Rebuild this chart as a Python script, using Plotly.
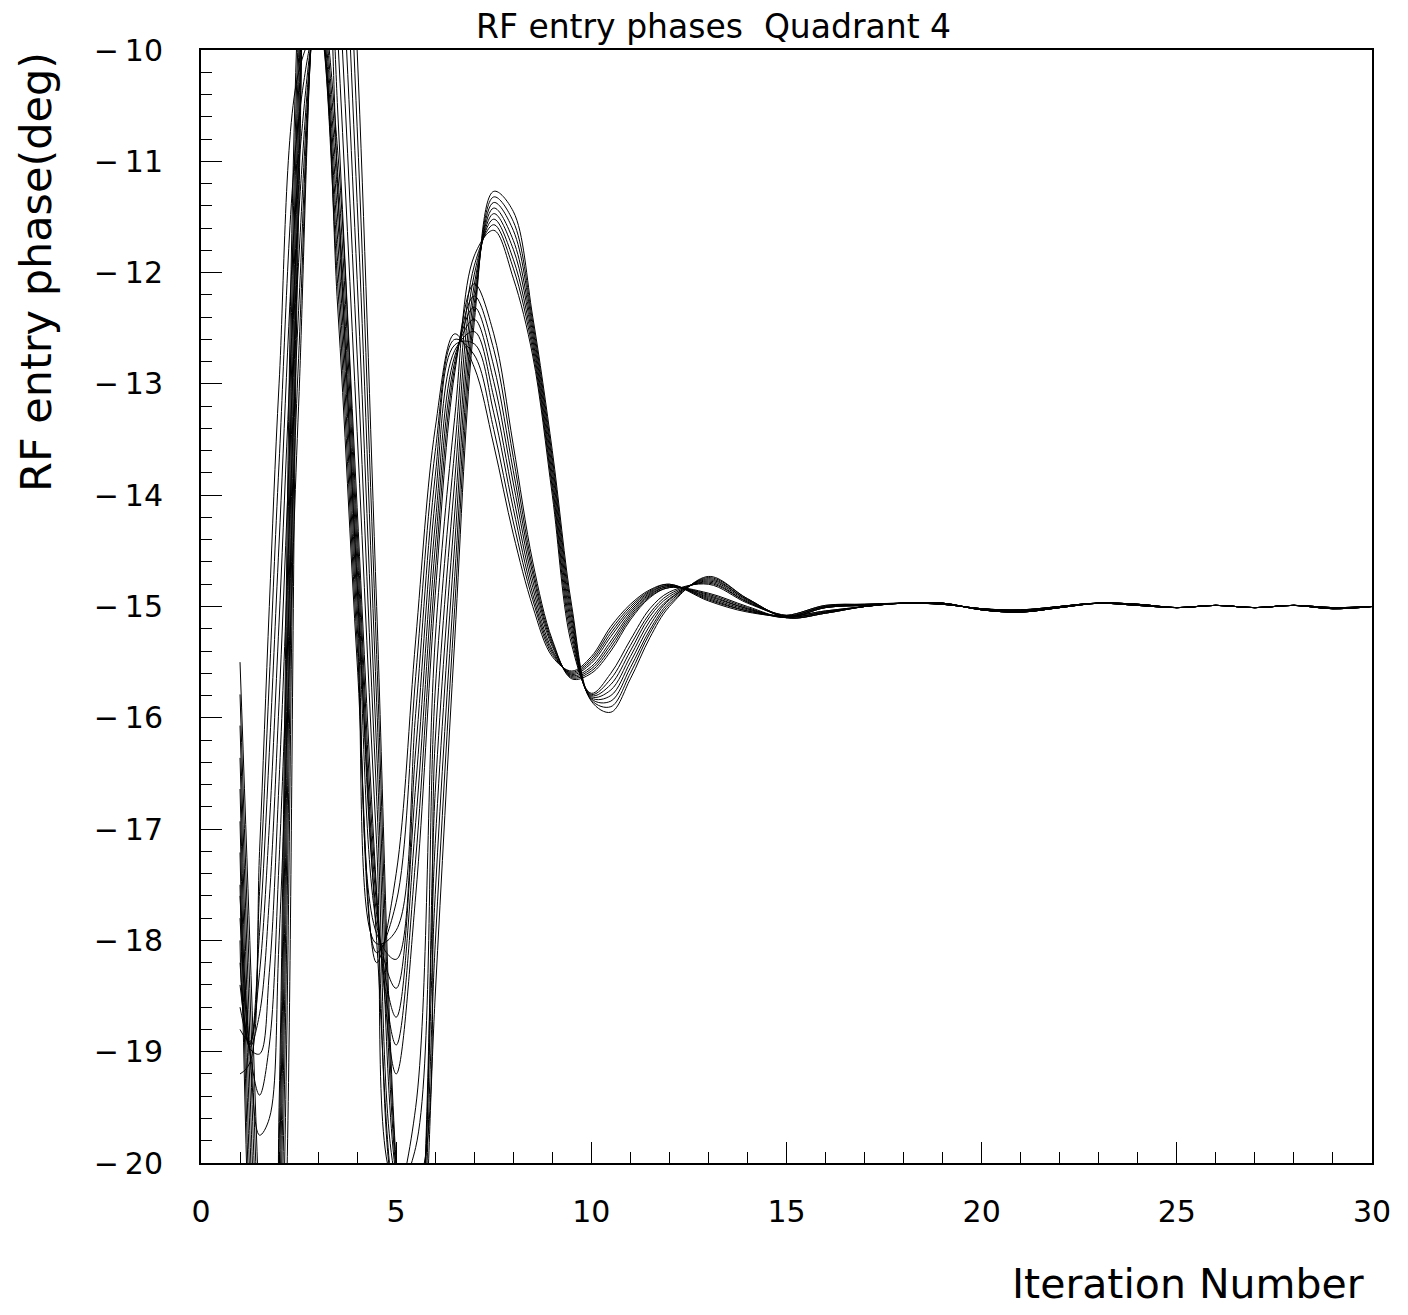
import plotly.graph_objects as go

iteration = [1.0, 1.25, 1.5, 1.75, 2.0, 2.5, 3.0, 3.5, 4.0, 4.5, 5.0, 5.5, 6.0, 6.5, 7.0, 7.5, 8.0, 8.5,
             9.0, 9.5, 10.0, 10.5, 11.0, 11.5, 12, 13, 14, 15, 16, 17, 18, 19, 20, 21, 22,
             23, 24, 25, 26, 27, 28, 29, 30]

# Group A: later, higher second peak (about -11.2 .. -11.6 near iteration 7.5)
a1 = [-17.5, -21.0, -23.0, -23.0, -19.5, -9.5, -7.0, -11.2, -14.8, -18.0, -20.3, -19.5, -15.3, -13.3, -11.85, -11.62, -12.05, -12.75,
      -14.0, -15.35, -15.78, -15.6, -15.3, -15.02, -14.87, -14.80, -14.97, -15.08, -15.04, -15.00, -14.97, -14.97, -15.03, -15.05, -15.01,
      -14.97, -14.98, -15.01, -14.99, -15.01, -14.99, -15.02, -15.00]
a2 = [-17.21, -20.57, -22.64, -22.93, -19.86, -9.79, -6.79, -10.53, -14.11, -17.57, -20.26, -19.86, -15.76, -13.59, -11.94, -11.57, -11.96, -12.7,
      -13.94, -15.3, -15.79, -15.65, -15.35, -15.06, -14.89, -14.79, -14.96, -15.08, -15.04, -15.00, -14.97, -14.97, -15.03, -15.05, -15.01,
      -14.97, -14.98, -15.01, -14.99, -15.01, -14.99, -15.02, -15.00]
a3 = [-16.93, -20.14, -22.29, -22.86, -20.21, -10.07, -6.57, -9.86, -13.43, -17.14, -20.21, -20.21, -16.21, -13.87, -12.02, -11.52, -11.88, -12.65,
      -13.89, -15.25, -15.80, -15.7, -15.4, -15.09, -14.91, -14.78, -14.96, -15.09, -15.05, -15.00, -14.97, -14.97, -15.03, -15.05, -15.01,
      -14.97, -14.98, -15.01, -14.99, -15.01, -14.99, -15.02, -15.00]
a4 = [-16.64, -19.71, -21.93, -22.79, -20.57, -10.36, -6.36, -9.19, -12.74, -16.71, -20.17, -20.57, -16.67, -14.16, -12.11, -11.47, -11.79, -12.6,
      -13.83, -15.2, -15.81, -15.75, -15.45, -15.13, -14.93, -14.77, -14.95, -15.09, -15.05, -15.00, -14.97, -14.97, -15.03, -15.05, -15.01,
      -14.97, -14.98, -15.01, -14.99, -15.01, -14.99, -15.02, -15.00]
a5 = [-16.36, -19.29, -21.57, -22.71, -20.93, -10.64, -6.14, -8.51, -12.06, -16.29, -20.13, -20.93, -17.13, -14.44, -12.19, -11.42, -11.71, -12.55,
      -13.77, -15.15, -15.82, -15.8, -15.5, -15.17, -14.94, -14.76, -14.94, -15.09, -15.05, -15.00, -14.97, -14.97, -15.03, -15.05, -15.01,
      -14.97, -14.98, -15.01, -14.99, -15.01, -14.99, -15.02, -15.00]
a6 = [-16.07, -18.86, -21.21, -22.64, -21.29, -10.93, -5.93, -7.84, -11.37, -15.86, -20.09, -21.29, -17.59, -14.73, -12.28, -11.37, -11.62, -12.5,
      -13.71, -15.1, -15.83, -15.85, -15.55, -15.21, -14.96, -14.75, -14.94, -15.10, -15.06, -15.00, -14.97, -14.97, -15.03, -15.05, -15.01,
      -14.97, -14.98, -15.01, -14.99, -15.01, -14.99, -15.02, -15.00]
a7 = [-15.79, -18.43, -20.86, -22.57, -21.64, -11.21, -5.71, -7.17, -10.69, -15.43, -20.04, -21.64, -18.04, -15.01, -12.36, -11.32, -11.54, -12.45,
      -13.66, -15.05, -15.84, -15.9, -15.6, -15.24, -14.98, -14.74, -14.93, -15.10, -15.06, -15.00, -14.97, -14.97, -15.03, -15.05, -15.01,
      -14.97, -14.98, -15.01, -14.99, -15.01, -14.99, -15.02, -15.00]
a8 = [-15.5, -18.0, -20.5, -22.5, -22.0, -11.5, -5.5, -6.5, -10.0, -15.0, -20.0, -22.0, -18.5, -15.3, -12.45, -11.27, -11.45, -12.4,
      -13.6, -15.0, -15.85, -15.95, -15.65, -15.28, -15.0, -14.73, -14.93, -15.10, -15.06, -15.00, -14.97, -14.97, -15.03, -15.05, -15.01,
      -14.97, -14.98, -15.01, -14.99, -15.01, -14.99, -15.02, -15.00]

# Group B: earlier, lower second peak (about -12.1 .. -12.5 near iteration 6.8)
b1 = [-19.2, -19.1, -17.2, -15.0, -13.0, -10.2, -9.8, -12.3, -15.5, -18.2, -17.4, -15.3, -13.4, -12.55, -12.85, -13.55, -14.35, -15.0,
      -15.45, -15.58, -15.45, -15.18, -14.98, -14.85, -14.80, -14.95, -15.05, -15.08, -14.99, -14.98, -14.97, -14.98, -15.02, -15.03, -15.00,
      -14.97, -14.99, -15.01, -14.99, -15.01, -14.99, -15.01, -15.00]
b2 = [-18.8, -18.91, -17.56, -15.66, -13.71, -10.63, -9.73, -12.1, -15.33, -18.11, -17.66, -15.63, -13.61, -12.6, -12.74, -13.41, -14.24, -14.94,
      -15.43, -15.59, -15.47, -15.21, -15.0, -14.86, -14.80, -14.94, -15.04, -15.08, -14.99, -14.98, -14.97, -14.98, -15.02, -15.03, -15.00,
      -14.97, -14.99, -15.01, -14.99, -15.01, -14.99, -15.01, -15.00]
b3 = [-18.6, -18.93, -17.93, -16.31, -14.43, -11.06, -9.66, -11.9, -15.16, -18.03, -17.91, -15.96, -13.83, -12.65, -12.64, -13.26, -14.12, -14.89,
      -15.41, -15.6, -15.49, -15.24, -15.02, -14.87, -14.81, -14.93, -15.04, -15.09, -15.00, -14.98, -14.97, -14.98, -15.02, -15.03, -15.00,
      -14.97, -14.99, -15.01, -14.99, -15.01, -14.99, -15.01, -15.00]
b4 = [-18.4, -18.94, -18.29, -16.97, -15.14, -11.49, -9.59, -11.7, -14.99, -17.94, -18.17, -16.29, -14.04, -12.7, -12.53, -13.12, -14.01, -14.83,
      -15.39, -15.61, -15.51, -15.27, -15.04, -14.88, -14.81, -14.92, -15.03, -15.09, -15.00, -14.99, -14.97, -14.98, -15.02, -15.03, -15.00,
      -14.97, -14.99, -15.01, -14.99, -15.01, -14.99, -15.01, -15.00]
b5 = [-18.2, -18.96, -18.66, -17.63, -15.86, -11.91, -9.51, -11.5, -14.81, -17.86, -18.43, -16.61, -14.26, -12.75, -12.42, -12.98, -13.89, -14.77,
      -15.36, -15.62, -15.54, -15.31, -15.06, -14.89, -14.82, -14.91, -15.02, -15.09, -15.00, -14.99, -14.97, -14.98, -15.02, -15.04, -15.00,
      -14.97, -14.99, -15.01, -14.99, -15.01, -14.99, -15.01, -15.00]
b6 = [-18.0, -18.97, -19.02, -18.29, -16.57, -12.34, -9.44, -11.3, -14.64, -17.77, -18.69, -16.94, -14.47, -12.8, -12.31, -12.84, -13.78, -14.71,
      -15.34, -15.63, -15.56, -15.34, -15.08, -14.9, -14.82, -14.90, -15.02, -15.10, -15.01, -14.99, -14.97, -14.98, -15.02, -15.04, -15.00,
      -14.97, -14.99, -15.01, -14.99, -15.01, -14.99, -15.01, -15.00]
b7 = [-17.8, -18.99, -19.39, -18.94, -17.29, -12.77, -9.37, -11.1, -14.47, -17.69, -18.94, -17.27, -14.69, -12.85, -12.21, -12.69, -13.66, -14.66,
      -15.32, -15.64, -15.58, -15.37, -15.1, -14.91, -14.83, -14.89, -15.01, -15.10, -15.01, -14.99, -14.97, -14.98, -15.02, -15.04, -15.00,
      -14.97, -14.99, -15.01, -14.99, -15.01, -14.99, -15.01, -15.00]
b8 = [-17.6, -19.0, -19.75, -19.6, -18.0, -13.2, -9.3, -10.9, -14.3, -17.6, -19.2, -17.6, -14.9, -12.9, -12.1, -12.55, -13.55, -14.6,
      -15.3, -15.65, -15.6, -15.4, -15.12, -14.92, -14.83, -14.88, -15.00, -15.10, -15.01, -14.99, -14.97, -14.98, -15.02, -15.04, -15.00,
      -14.97, -14.99, -15.01, -14.99, -15.01, -14.99, -15.01, -15.00]

x_tick_vals = [0, 5, 10, 15, 20, 25, 30]
x_tick_text = ["0", "5", "10", "15", "20", "25", "30"]
y_tick_vals = [-20, -19, -18, -17, -16, -15, -14, -13, -12, -11, -10]
y_tick_text = ["\u2212\u200920", "\u2212\u200919", "\u2212\u200918", "\u2212\u200917", "\u2212\u200916",
               "\u2212\u200915", "\u2212\u200914", "\u2212\u200913", "\u2212\u200912", "\u2212\u200911", "\u2212\u200910"]

title_text = "RF entry phases  Quadrant 4"
x_title = "Iteration Number"
y_title = "RF entry phase(deg)"

curves = [a1, a2, a3, a4, a5, a6, a7, a8, b1, b2, b3, b4, b5, b6, b7, b8]

FONT = "DejaVu Sans"
W, H = 1408, 1315
L, R, T, B = 201, 36, 50, 152
pw, ph = W - L - R, H - T - B

fig = go.Figure()
for c in curves:
    fig.add_trace(go.Scatter(
        x=iteration, y=c, mode="lines",
        line=dict(color="black", width=1, shape="spline", smoothing=1.0),
        showlegend=False, hoverinfo="skip",
    ))

axis_common = dict(
    showgrid=False, zeroline=False, showline=True, mirror=True,
    linecolor="black", linewidth=2, ticks="inside", tickcolor="black",
    tickwidth=1, tickfont=dict(family=FONT, size=30, color="black"),
)

fig.update_xaxes(
    range=[0, 30], tickvals=x_tick_vals, ticktext=x_tick_text, ticklen=21,
    ticklabelstandoff=21,
    minor=dict(dtick=1, ticklen=11, ticks="inside", tickcolor="black", tickwidth=1, showgrid=False),
    **axis_common,
)
fig.update_yaxes(
    range=[-20, -10], tickvals=y_tick_vals, ticktext=y_tick_text, ticklen=21,
    ticklabelstandoff=30,
    minor=dict(dtick=0.2, ticklen=11, ticks="inside", tickcolor="black", tickwidth=1, showgrid=False),
    **axis_common,
)

fig.update_layout(
    width=W, height=H,
    margin=dict(l=L, r=R, t=T, b=B, autoexpand=False),
    paper_bgcolor="white", plot_bgcolor="white",
    showlegend=False,
    annotations=[
        dict(text=title_text, xref="paper", yref="paper",
             x=(713 - L) / pw, y=1 + (T - 27) / ph, xanchor="center", yanchor="middle",
             showarrow=False, font=dict(family=FONT, size=33, color="black")),
        dict(text=x_title, xref="paper", yref="paper",
             x=(1366 - L) / pw, y=-(1284 - (T + ph)) / ph, xanchor="right", yanchor="middle",
             showarrow=False, font=dict(family=FONT, size=41, color="black")),
        dict(text=y_title, xref="paper", yref="paper", textangle=-90,
             x=(36 - L) / pw, y=1, xanchor="center", yanchor="top",
             showarrow=False, font=dict(family=FONT, size=43, color="black")),
    ],
)

fig.write_html("out.html")
